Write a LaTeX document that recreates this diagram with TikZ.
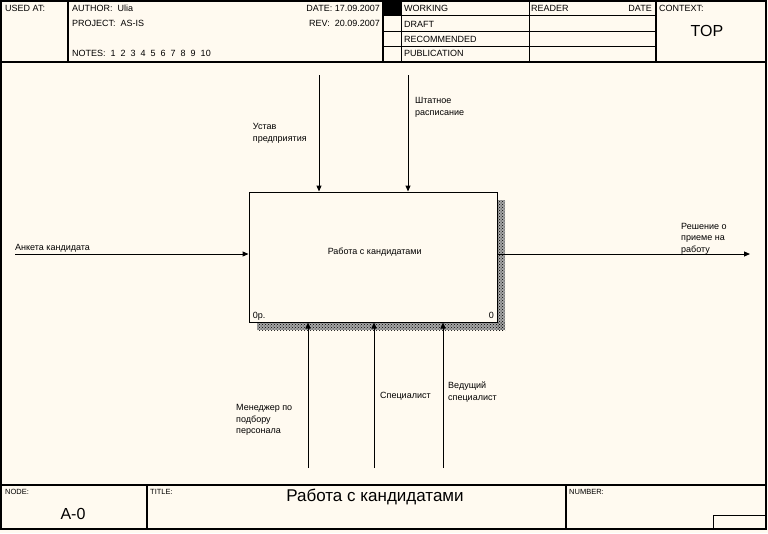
\documentclass[tikz,border=0pt]{standalone}
\usepackage{fontspec}
\setmainfont{Liberation Sans}
\usetikzlibrary{arrows.meta,patterns}
\definecolor{paper}{HTML}{FFFAF0}
\begin{document}
\begin{tikzpicture}[x=1pt,y=-1pt,
  frame/.style={draw=black,line width=1.2pt},
  thin/.style={draw=black,line width=0.9pt},
  hdr/.style={font=\fontsize{9}{11}\selectfont,inner sep=0pt},
  small/.style={font=\fontsize{7.5}{9}\selectfont,inner sep=0pt},
  big/.style={font=\fontsize{16}{18}\selectfont,inner sep=0pt},
  lbl/.style={font=\fontsize{9}{11.5}\selectfont,inner sep=0pt,align=left,anchor=base west},
  arr/.style={draw=black,line width=1pt,-{Triangle[length=6pt,width=5pt]}},
  shadowbg/.style={fill=black!35},
  shadowdots/.style={pattern=crosshatch dots,pattern color=black},
  fbox/.style={draw=black,line width=1pt,fill=paper,minimum width=248pt,minimum height=130pt,inner sep=0pt}]
\useasboundingbox (0,0) rectangle (768,533);
\fill[paper] (0,0) rectangle (768,533);
% outer frame and header
\draw[frame] (1,1) rectangle (766,529);
\draw[frame] (1,62) -- (766,62);
\draw[frame] (68,1) -- (68,62);
\draw[frame] (383,1) -- (383,62);
\draw[thin] (401,1) -- (401,62);
\draw[thin] (529,1) -- (529,62);
\draw[frame] (656,1) -- (656,62);
\draw[thin] (383,15.5) -- (656,15.5);
\draw[thin] (383,31) -- (656,31);
\draw[thin] (383,46) -- (656,46);
\fill[black] (383,1) rectangle (401,15.5);
% header texts
\node[hdr,anchor=base west] (usedat) at (5,11.5) {USED AT:};
\node[hdr,anchor=base west] (author) at (72,11.5) {AUTHOR:\ \ Ulia};
\node[hdr,anchor=base west] (project) at (72,26) {PROJECT:\ \ AS-IS};
\node[hdr,anchor=base west] (notes) at (72,56.5) {NOTES:\ \ 1\ \ 2\ \ 3\ \ 4\ \ 5\ \ 6\ \ 7\ \ 8\ \ 9\ \ 10};
\node[hdr,anchor=base east] (date) at (380,11.5) {DATE: 17.09.2007};
\node[hdr,anchor=base east] (rev) at (380,26) {REV:\ \ 20.09.2007};
\node[hdr,anchor=base west] (working) at (404,11.3) {WORKING};
\node[hdr,anchor=base west] (draft) at (404,27.3) {DRAFT};
\node[hdr,anchor=base west] (recom) at (404,42.3) {RECOMMENDED};
\node[hdr,anchor=base west] (publ) at (404,56.7) {PUBLICATION};
\node[hdr,anchor=base west] (reader) at (531,11.3) {READER};
\node[hdr,anchor=base east] (rdate) at (652,11.3) {DATE};
\node[hdr,anchor=base west] (context) at (659,11.3) {CONTEXT:};
\node[big,anchor=base] (top) at (707,36.7) {TOP};
% footer
\draw[frame] (1,485) -- (766,485);
\draw[frame] (147,485) -- (147,529);
\draw[frame] (566,485) -- (566,529);
\draw[thin] (713,515.5) -- (713,529);
\draw[thin] (713,515.5) -- (766,515.5);
\node[small,anchor=base west] (nodel) at (5,494) {NODE:};
\node[small,anchor=base west] (titlel) at (150,494) {TITLE:};
\node[small,anchor=base west] (numl) at (569,494) {NUMBER:};
\node[big,anchor=base] (nodeid) at (73,519.7) {A-0};
\node[big,anchor=base,font=\fontsize{17}{19}\selectfont] (title) at (375,501.3) {Работа с кандидатами};
% shadow
\fill[shadowbg] (497,200) rectangle (505,330);
\fill[shadowbg] (257,322) rectangle (505,330);
\fill[shadowdots] (497,200) rectangle (505,330);
\fill[shadowdots] (257,322) rectangle (505,330);
% function box
\node[fbox] (fn) at (373,257) {};
\node[hdr,anchor=base] (fntext) at (374.7,254) {Работа с кандидатами};
\node[hdr,anchor=base west] (fncost) at (252.7,318.3) {0р.};
\node[hdr,anchor=base east] (fnnum) at (494,318.3) {0};
% coordinates of free ends
\coordinate (c1) at (319,75);
\coordinate (c2) at (408,75);
\coordinate (i1) at (15,254);
\coordinate (o1) at (750,254);
\coordinate (m1) at (308,468);
\coordinate (m2) at (374,468);
\coordinate (m3) at (443,468);
% connectors
\draw[arr] (c1) -- (c1 |- fn.north);
\draw[arr] (c2) -- (c2 |- fn.north);
\draw[arr] (i1) -- (i1 -| fn.west);
\draw[arr] (o1 -| fn.east) -- (o1);
\draw[arr] (m1) -- (m1 |- fn.south);
\draw[arr] (m2) -- (m2 |- fn.south);
\draw[arr] (m3) -- (m3 |- fn.south);
% labels (base anchor = last line baseline)
\node[lbl] (lc1) at (252.7,141) {Устав\\предприятия};
\node[lbl] (lc2) at (415,115.3) {Штатное\\расписание};
\node[lbl] (li1) at (15,250.7) {Анкета кандидата};
\node[lbl] (lo1) at (681,252) {Решение о\\приеме на\\работу};
\node[lbl] (lm1) at (236,433.5) {Менеджер по\\подбору\\персонала};
\node[lbl] (lm2) at (380,398.3) {Специалист};
\node[lbl] (lm3) at (448,400.3) {Ведущий\\специалист};
\end{tikzpicture}
\end{document}
